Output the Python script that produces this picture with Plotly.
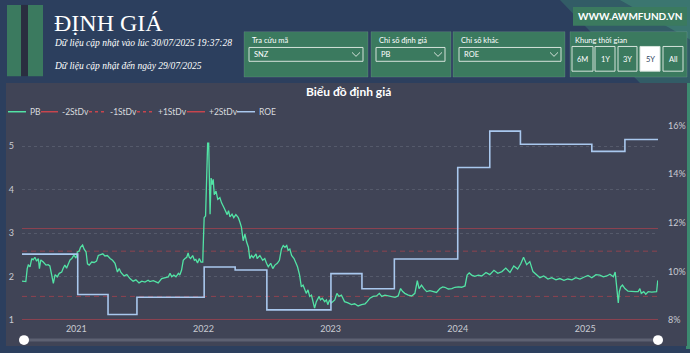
import plotly.graph_objects as go

W, H = 690, 353

# ---------------- data ----------------
pb_dates = [
    "2020-07-29","2020-08-09","2020-08-13","2020-08-16","2020-08-21","2020-08-26","2020-08-30","2020-09-04",
    "2020-09-09","2020-09-14","2020-09-17","2020-09-21","2020-09-28","2020-10-06","2020-10-12","2020-10-17",
    "2020-10-22","2020-10-27","2020-11-01","2020-11-07","2020-11-13","2020-11-20","2020-11-24","2020-11-29",
    "2020-12-04","2020-12-09","2020-12-14","2020-12-19","2020-12-25","2020-12-31","2021-01-04","2021-01-09",
    "2021-01-13","2021-01-19","2021-01-23","2021-01-29","2021-02-02","2021-02-07","2021-02-14","2021-02-21",
    "2021-02-28","2021-03-05","2021-03-10","2021-03-18","2021-03-24","2021-03-31","2021-04-08","2021-04-15",
    "2021-04-22","2021-04-29","2021-05-04","2021-05-09","2021-05-18","2021-05-26","2021-06-04","2021-06-13",
    "2021-06-21","2021-06-30","2021-07-08","2021-07-17","2021-07-26","2021-07-31","2021-08-10","2021-08-24",
    "2021-09-03","2021-09-12","2021-09-22","2021-09-27","2021-10-02","2021-10-08","2021-10-14","2021-10-21",
    "2021-10-25","2021-10-30","2021-11-04","2021-11-09","2021-11-14","2021-11-18","2021-11-21","2021-11-25",
    "2021-12-01","2021-12-06","2021-12-10","2021-12-15","2021-12-20","2021-12-25","2021-12-30","2021-12-31",
    "2022-01-03","2022-01-07","2022-01-10","2022-01-13","2022-01-16","2022-01-18","2022-01-20","2022-01-23",
    "2022-01-26","2022-01-29","2022-02-01","2022-02-06","2022-02-11","2022-02-17","2022-02-22","2022-03-01",
    "2022-03-06","2022-03-10","2022-03-14","2022-03-18","2022-03-24","2022-03-29","2022-04-04","2022-04-11",
    "2022-04-16","2022-04-20","2022-04-25","2022-04-30","2022-05-05","2022-05-10","2022-05-14","2022-05-19",
    "2022-05-24","2022-06-01","2022-06-04","2022-06-12","2022-06-20","2022-06-26","2022-07-01","2022-07-06",
    "2022-07-13","2022-07-19","2022-07-25","2022-08-01","2022-08-07","2022-08-13","2022-08-18","2022-08-23",
    "2022-08-28","2022-09-01","2022-09-06","2022-09-11","2022-09-18","2022-09-23","2022-09-28","2022-10-04",
    "2022-10-09","2022-10-14","2022-10-18","2022-10-23","2022-10-28","2022-11-02","2022-11-07","2022-11-11",
    "2022-11-16","2022-11-21","2022-11-29","2022-12-03","2022-12-08","2022-12-15","2022-12-20","2022-12-24",
    "2022-12-29","2023-01-03","2023-01-13","2023-01-19","2023-01-25","2023-02-01","2023-02-10","2023-02-20",
    "2023-03-02","2023-03-11","2023-03-21","2023-03-31","2023-04-10","2023-04-16","2023-04-24","2023-05-03",
    "2023-05-13","2023-05-21","2023-05-28","2023-06-06","2023-06-16","2023-06-25","2023-07-05","2023-07-14",
    "2023-07-21","2023-07-27","2023-08-02","2023-08-12","2023-08-22","2023-08-31","2023-09-07","2023-09-12",
    "2023-09-19","2023-09-26","2023-10-04","2023-10-13","2023-10-23","2023-11-01","2023-11-11","2023-11-19",
    "2023-11-25","2023-12-05","2023-12-15","2023-12-24","2024-01-03","2024-01-12","2024-01-22","2024-01-28",
    "2024-02-03","2024-02-10","2024-02-19","2024-02-29","2024-03-10","2024-03-22","2024-04-02","2024-04-14",
    "2024-04-25","2024-05-07","2024-05-18","2024-05-30","2024-06-10","2024-06-21","2024-06-30","2024-07-08",
    "2024-07-17","2024-07-26","2024-08-04","2024-08-13","2024-08-24","2024-09-04","2024-09-16","2024-09-27",
    "2024-10-09","2024-10-20","2024-11-01","2024-11-12","2024-11-24","2024-12-05","2024-12-17","2024-12-28",
    "2025-01-09","2025-01-20","2025-02-01","2025-02-12","2025-02-22","2025-03-04","2025-03-13","2025-03-23",
    "2025-03-28","2025-03-30","2025-04-03","2025-04-06","2025-04-09","2025-04-13","2025-04-18","2025-04-25",
    "2025-05-04","2025-05-14","2025-05-24","2025-06-02","2025-06-07","2025-06-11","2025-06-18","2025-06-24",
    "2025-07-01","2025-07-11","2025-07-20","2025-07-25","2025-07-28","2025-07-29",
]
pb_values = [
    1.90,1.89,2.19,2.27,2.23,2.42,2.39,2.45,
    2.36,2.42,2.19,2.39,2.34,2.27,2.28,2.25,
    2.05,1.85,2.05,2.00,2.08,2.11,2.19,2.27,
    2.20,2.28,2.39,2.42,2.50,2.43,2.57,2.59,
    2.68,2.73,2.64,2.57,2.30,2.27,2.34,2.33,
    2.36,2.49,2.51,2.53,2.48,2.49,2.42,2.38,
    2.31,2.11,2.19,2.10,2.02,2.05,1.96,1.90,
    1.93,1.86,1.90,1.88,1.92,1.89,1.91,1.86,
    1.96,1.98,2.00,2.08,2.00,2.04,2.00,2.08,
    2.04,2.15,2.38,2.42,2.45,2.55,2.45,2.42,
    2.49,2.38,2.40,2.32,2.42,2.34,2.34,2.64,
    3.36,3.40,4.27,5.07,5.07,4.05,3.44,4.27,
    4.12,4.24,3.89,3.97,3.78,3.82,3.70,3.59,
    3.52,3.43,3.52,3.38,3.44,3.36,3.43,3.36,
    3.25,3.14,2.83,2.98,2.80,2.68,2.42,2.49,
    2.44,2.53,2.42,2.49,2.38,2.42,2.31,2.23,
    2.31,2.19,2.27,2.31,2.38,2.64,2.72,2.68,
    2.72,2.61,2.64,2.49,2.42,2.31,2.23,2.04,
    1.77,1.81,1.73,1.62,1.70,1.55,1.58,1.47,
    1.28,1.43,1.55,1.47,1.51,1.43,1.47,1.36,
    1.47,1.40,1.47,1.62,1.55,1.58,1.43,1.40,
    1.36,1.38,1.33,1.36,1.38,1.43,1.51,1.55,
    1.56,1.62,1.55,1.58,1.56,1.55,1.53,1.56,
    1.73,1.66,1.62,1.58,1.56,1.62,1.91,1.73,
    1.81,1.73,1.66,1.68,1.66,1.64,1.73,1.77,
    1.76,1.72,1.73,1.76,1.77,1.76,1.79,2.04,
    2.09,2.04,2.01,2.04,2.02,2.10,2.05,2.15,
    2.08,2.12,2.20,2.10,2.25,2.18,2.30,2.45,
    2.28,2.35,2.12,2.05,1.98,2.02,1.95,1.98,
    1.93,1.96,1.92,1.95,1.93,1.98,1.95,1.99,
    2.03,1.98,2.05,2.04,2.00,2.02,2.06,2.00,
    2.11,1.96,1.62,1.40,1.66,1.77,1.81,1.73,
    1.67,1.66,1.66,1.66,1.73,1.62,1.66,1.60,
    1.66,1.65,1.66,1.66,1.89,1.92,
]

roe_dates = ["2020-07-29", "2021-01-05", "2021-04-02", "2021-06-24", "2022-01-03", "2022-04-02",
             "2022-07-02", "2023-01-02", "2023-04-01", "2023-07-03", "2024-01-01", "2024-04-02",
             "2024-06-29", "2025-01-20", "2025-04-25", "2025-07-29"]
roe_values = [10.72, 9.06, 8.24, 8.95, 10.19, 10.07, 8.43, 9.92, 9.30, 10.52, 14.28, 15.77,
              15.23, 14.94, 15.43, 15.43]

band_names = ["-2StDv", "-1StDv", "+1StDv", "+2StDv"]
band_levels = [1.02, 1.55, 2.59, 3.11]
band_dash = ["solid", "5px,4px", "5px,4px", "solid"]

date_start, date_end = "2020-07-29", "2025-07-29"
year_ticks = ["2021-01-01", "2022-01-01", "2023-01-01", "2024-01-01", "2025-01-01"]
year_labels = ["2021", "2022", "2023", "2024", "2025"]
pb_ticks = [1, 2, 3, 4, 5]
roe_ticks = [8, 10, 12, 14, 16]
roe_labels = ["8%", "10%", "12%", "14%", "16%"]

# ---------------- styling ----------------
NAVY = "#2c3f5e"
PANEL = "#404456"
GREEN = "#3b7a5f"
PB_COL = "#52e3a5"
ROE_COL = "#a9c8ee"
RED = "#b8434d"
TICK = "#c9cbd2"
SANS = "Segoe UI, Lato, Noto Sans, sans-serif"
SERIF = "Liberation Serif, Times New Roman, serif"


def X(p):
    return p / W


def Y(p):
    return 1 - p / H


fig = go.Figure()

for nm, lv, ds in zip(band_names, band_levels, band_dash):
    fig.add_trace(go.Scatter(x=[date_start, date_end], y=[lv, lv], mode="lines", name=nm,
                             line=dict(color=RED, width=1, dash=ds), opacity=0.65, yaxis="y"))
fig.add_trace(go.Scatter(x=pb_dates, y=pb_values, mode="lines", name="PB",
                         line=dict(color=PB_COL, width=1.3), yaxis="y"))
fig.add_trace(go.Scatter(x=roe_dates, y=roe_values, mode="lines", name="ROE",
                         line=dict(color=ROE_COL, width=1.6, shape="hv"), yaxis="y2"))

top_px, bot_px = 118, 325
px_per_pb = 44.0
px_per_roe = 24.625
pb_range = [1 - (bot_px - 324) / px_per_pb, 1 + (324 - top_px) / px_per_pb]
roe_range = [8 - (bot_px - 324) / px_per_roe, 8 + (324 - top_px) / px_per_roe]

shapes = []
ann = []


def rect(x0, y0, x1, y1, fill, line=None, lw=0, layer="below"):
    shapes.append(dict(type="rect", xref="paper", yref="paper", x0=X(x0), x1=X(x1), y0=Y(y1), y1=Y(y0),
                       fillcolor=fill, line=dict(color=line or fill, width=lw), layer=layer))


def text(x, y, s, size, color="white", font=SANS, anchor="left", bold=False, italic=False):
    if bold:
        s = "<b>" + s + "</b>"
    if italic:
        s = "<i>" + s + "</i>"
    ann.append(dict(x=X(x), y=Y(y), xref="paper", yref="paper", text=s, showarrow=False,
                    xanchor=anchor, yanchor="middle", font=dict(size=size, color=color, family=font)))


def seg(x0, y0, x1, y1, color, width, dash="solid", layer="above"):
    shapes.append(dict(type="line", xref="paper", yref="paper", x0=X(x0), x1=X(x1), y0=Y(y0), y1=Y(y1),
                       line=dict(color=color, width=width, dash=dash), layer=layer))


# decorative teal in top right of page
shapes.append(dict(type="path", xref="paper", yref="paper",
                   path=f"M {X(560)} {Y(0)} L {X(690)} {Y(0)} L {X(690)} {Y(84)} L {X(640)} {Y(84)} Z",
                   fillcolor="rgba(58,128,112,0.45)", line=dict(width=0), layer="below"))
shapes.append(dict(type="path", xref="paper", yref="paper",
                   path=f"M {X(620)} {Y(0)} L {X(690)} {Y(0)} L {X(690)} {Y(40)} Z",
                   fillcolor="rgba(70,150,125,0.45)", line=dict(width=0), layer="below"))
rect(686, 84, 690, 353, "#3c8a70")

# chart panel
rect(6, 84, 687, 350, PANEL)

# logo
rect(7, 5, 21, 77, GREEN)
rect(21, 5, 28, 77, "#2a2e40")
rect(28, 5, 43, 77, GREEN)

# header texts
text(52, 23, "ĐỊNH GIÁ", 24, font=SERIF)
text(52, 43, "Dữ liệu cập nhật vào lúc 30/07/2025 19:37:28", 9.5, font=SERIF, italic=True)
text(52, 67, "Dữ liệu cập nhật đến ngày 29/07/2025", 9.5, font=SERIF, italic=True)

# website box
rect(573, 7, 687, 26, GREEN)
text(630, 16.5, "WWW.AWMFUND.VN", 10, anchor="center", bold=True)

# filter boxes
boxes = [(244, 368, "Tra cứu mã", "SNZ", 249, 363),
         (371, 451, "Chỉ số định giá", "PB", 376, 445),
         (453, 565, "Chỉ số khác", "ROE", 459, 561)]
for bx0, bx1, lab, val, dx0, dx1 in boxes:
    rect(bx0, 32, bx1, 78, GREEN, "rgba(255,255,255,0.10)", 1)
    text(bx0 + 6, 40.5, lab, 7.5)
    rect(dx0, 48, dx1, 62, "rgba(0,0,0,0)", "#d5e2da", 1, layer="above")
    text(dx0 + 3, 55.5, val, 7.5)
    cx = dx1 - 7
    shapes.append(dict(type="path", xref="paper", yref="paper",
                       path=f"M {X(cx-4)} {Y(53)} L {X(cx)} {Y(57)} L {X(cx+4)} {Y(53)}",
                       line=dict(color="#d5e2da", width=1), layer="above"))

rect(570, 32, 687, 78, GREEN, "rgba(255,255,255,0.10)", 1)
text(573, 40.5, "Khung thời gian", 7.5)
buttons = [("6M", 572, 593), ("1Y", 595, 615), ("3Y", 618, 637), ("5Y", 640, 660), ("All", 663, 683)]
for lab, b0, b1 in buttons:
    sel = lab == "5Y"
    rect(b0, 47, b1, 72, "white" if sel else "rgba(0,0,0,0)", "#d5e2da", 1, layer="above")
    text((b0 + b1) / 2, 60, lab, 7.5, color="#2c3f5e" if sel else "white", anchor="center")

# chart title
text(348, 93, "Biểu đồ định giá", 12, anchor="center", bold=True)

# custom legend
leg = [("PB", PB_COL, "solid", 8, 26, 28),
       ("-2StDv", "#c8454d", "solid", 41, 58, 60),
       ("-1StDv", "#c8454d", "3px,3px", 89, 106, 108),
       ("+1StDv", "#c8454d", "3px,3px", 137, 154, 156),
       ("+2StDv", "#c8454d", "solid", 187, 205, 207),
       ("ROE", ROE_COL, "solid", 237, 255, 257)]
for nm, col, ds, l0, l1, tx in leg:
    seg(l0, 113, l1, 113, col, 1.5, ds)
    text(tx, 113, nm, 8.5, color="#d8dade")

# range slider look
seg(24, 344, 658, 344, "#5d6172", 3)
for cxp in (24, 658):
    shapes.append(dict(type="circle", xref="paper", yref="paper", x0=X(cxp - 5), x1=X(cxp + 5),
                       y0=Y(349), y1=Y(339), fillcolor="white", line=dict(color="white", width=0),
                       layer="above"))

fig.update_layout(
    width=W, height=H, margin=dict(l=0, r=0, t=0, b=0),
    paper_bgcolor=NAVY, plot_bgcolor="rgba(0,0,0,0)",
    showlegend=False,
    shapes=shapes, annotations=ann,
    xaxis=dict(domain=[X(22), X(658)], type="date", range=[date_start, date_end],
               tickvals=year_ticks, ticktext=year_labels, showgrid=False, zeroline=False,
               showline=False, ticks="", tickfont=dict(size=9, color=TICK, family=SANS),
               ticklabelstandoff=1),
    yaxis=dict(domain=[Y(bot_px), Y(top_px)], range=pb_range, tickvals=pb_ticks,
               showgrid=True, gridcolor="rgba(200,205,215,0.16)", griddash="dot", gridwidth=1,
               zeroline=False, showline=False, ticks="",
               tickfont=dict(size=9, color=TICK, family=SANS), ticklabelstandoff=7),
    yaxis2=dict(overlaying="y", side="right", range=roe_range, tickvals=roe_ticks,
                ticktext=roe_labels, showgrid=False, zeroline=False, showline=False, ticks="",
                tickfont=dict(size=9, color=TICK, family=SANS), ticklabelstandoff=9),
)

fig.write_html("out.html")
